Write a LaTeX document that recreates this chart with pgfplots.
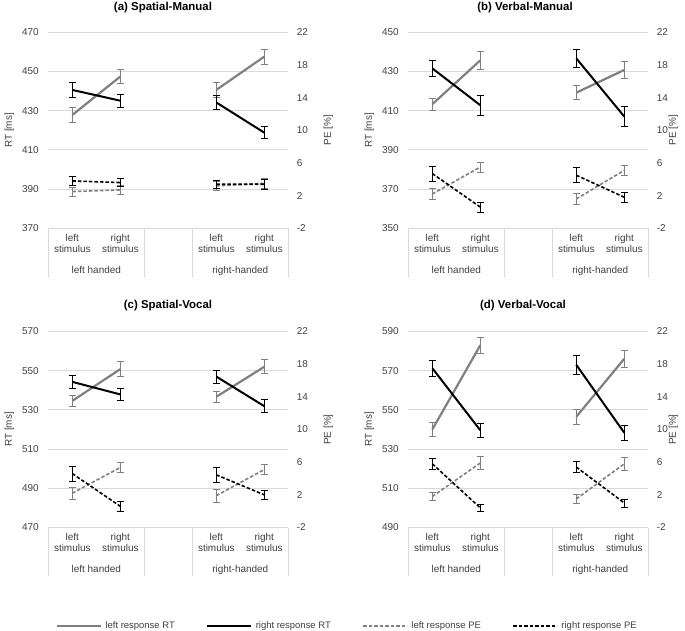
\documentclass[border=0pt]{standalone}
\usepackage{pgfplots}
\pgfplotsset{compat=1.18}
\usepackage{pgfplotstable}
\usepackage{fontspec}
\setmainfont{Liberation Sans}
\definecolor{lgray}{HTML}{808080}
\definecolor{gridc}{HTML}{D9D9D9}
\definecolor{txt}{HTML}{404040}

% x: 0,1 = left handed (left/right stimulus), 3,4 = right-handed; x=2 is the gap
\pgfplotstableread{
x lr lre rr rre lp lpe rp rpe
0 427.8 4.0 440.6 3.7 2.5 0.55 3.8 0.5
1 447.4 3.7 435.1 3.3 2.7 0.6 3.6 0.5
2 nan 0 nan 0 nan 0 nan 0
3 440.6 3.8 434.2 3.5 3.2 0.5 3.4 0.5
4 457.6 3.8 418.8 3.1 3.5 0.6 3.4 0.6
}\tA
\pgfplotstableread{
x lr lre rr rre lp lpe rp rpe
0 413.3 3.2 431.6 4.2 2.2 0.7 4.7 0.9
1 435.7 4.5 412.8 5.0 5.5 0.6 0.6 0.6
2 nan 0 nan 0 nan 0 nan 0
3 419.2 3.5 436.7 4.5 1.6 0.7 4.5 0.9
4 430.8 4.5 407.0 5.0 5.1 0.6 1.8 0.6
}\tB
\pgfplotstableread{
x lr lre rr rre lp lpe rp rpe
0 534.6 2.8 544.3 3.5 2.2 0.7 4.6 0.9
1 550.8 3.8 537.9 3.0 5.35 0.6 0.6 0.6
2 nan 0 nan 0 nan 0 nan 0
3 536.7 2.9 547.0 3.4 1.9 0.8 4.45 0.9
4 552.0 3.6 531.9 3.4 5.1 0.6 2.0 0.6
}\tC
\pgfplotstableread{
x lr lre rr rre lp lpe rp rpe
0 540.0 3.5 571.3 4.0 1.8 0.5 5.8 0.7
1 583.0 4.0 539.6 3.6 5.9 0.75 0.4 0.45
2 nan 0 nan 0 nan 0 nan 0
3 546.5 3.9 573.0 4.7 1.5 0.5 5.4 0.7
4 576.1 4.3 538.3 3.8 5.8 0.8 1.0 0.5
}\tD

\pgfplotsset{
  base/.style={scale only axis, width=240bp, height=196bp, xmin=-0.5, xmax=4.5,
    clip=false, anchor=south west, axis line style={draw=none}, tick style={draw=none},
    unbounded coords=jump,
    ticklabel style={font=\fontsize{10}{11.5}\selectfont, text=txt},
    label style={font=\fontsize{10}{11.5}\selectfont, text=txt},
    /pgf/number format/assume math mode=true},
  rtaxis/.style={base, ymajorgrids, grid style={gridc, line width=0.9bp},
    xtick={0,1,3,4},
    xticklabels={left\\stimulus,right\\stimulus,left\\stimulus,right\\stimulus},
    xticklabel style={align=center, yshift=-2bp},
    yticklabel style={xshift=-6bp}, ylabel={RT [ms]}},
  peaxis/.style={base, ymin=-2, ymax=22, ytick={-2,2,...,22}, axis y line*=right,
    hide x axis, yticklabel style={xshift=5bp}, ylabel={PE [\%]}},
  errb/.style={/pgfplots/error bars/y dir=both, /pgfplots/error bars/y explicit,
    /pgfplots/error bars/error bar style={line width=0.8bp, solid, #1},
    /pgfplots/error bars/error mark options={rotate=90, mark size=3.5bp, line width=0.8bp, solid, #1}},
  lrRT/.style={lgray, line width=2.2bp, no marks, errb=lgray},
  rrRT/.style={black, line width=2.0bp, no marks, errb=black},
  lrPE/.style={lgray, line width=1.6bp, dash pattern=on 3.5bp off 2bp, no marks, errb=lgray},
  rrPE/.style={black, line width=1.6bp, dash pattern=on 3.5bp off 2bp, no marks, errb=black},
}

% #1 table, #2 x, #3 y (bottom), #4 ymin, #5 ymax, #6 second tick, #7 PE label shift
\newcommand{\panel}[7]{%
\begin{axis}[rtaxis, at={(#2,#3)}, ymin=#4, ymax=#5, ytick={#4,#6,...,#5},
  ylabel style={at={([xshift=-39bp]rel axis cs:0,0.5)}, anchor=center, rotate=0}]
  \addplot[lrRT] table[x=x, y=lr, y error=lre] {#1};
  \addplot[rrRT] table[x=x, y=rr, y error=rre] {#1};
  \draw[gridc, line width=0.9bp] (rel axis cs:0,0) -- ([yshift=-48.5bp]rel axis cs:0,0);
  \draw[gridc, line width=0.9bp] (rel axis cs:0.4,0) -- ([yshift=-48.5bp]rel axis cs:0.4,0);
  \draw[gridc, line width=0.9bp] (rel axis cs:0.6,0) -- ([yshift=-48.5bp]rel axis cs:0.6,0);
  \draw[gridc, line width=0.9bp] (rel axis cs:1,0) -- ([yshift=-48.5bp]rel axis cs:1,0);
  \node[anchor=base, font=\fontsize{10}{11.5}\selectfont, text=txt] at ([yshift=-45bp]rel axis cs:0.2,0) {left handed};
  \node[anchor=base, font=\fontsize{10}{11.5}\selectfont, text=txt] at ([yshift=-45bp]rel axis cs:0.8,0) {right-handed};
\end{axis}
\begin{axis}[peaxis, at={(#2,#3)},
  ylabel style={at={([xshift=#7]rel axis cs:1,0.5)}, anchor=center, rotate=0}]
  \addplot[lrPE] table[x=x, y=lp, y error=lpe] {#1};
  \addplot[rrPE] table[x=x, y=rp, y error=rpe] {#1};
\end{axis}}

\begin{document}
\begin{tikzpicture}
\useasboundingbox (0,0) rectangle (685bp,-631bp);
\panel{\tA}{48.3bp}{-228.3bp}{370}{470}{390}{40bp}
\panel{\tB}{408.3bp}{-228.3bp}{350}{450}{370}{25bp}
\panel{\tC}{48.3bp}{-527.5bp}{470}{570}{490}{40bp}
\panel{\tD}{408.3bp}{-527.5bp}{490}{590}{510}{25bp}

\node[font=\bfseries\fontsize{11.5}{13}\selectfont] at (163bp,-8bp) {(a) Spatial-Manual};
\node[font=\bfseries\fontsize{11.5}{13}\selectfont] at (525bp,-8bp) {(b) Verbal-Manual};
\node[font=\bfseries\fontsize{11.5}{13}\selectfont] at (168bp,-306bp) {(c) Spatial-Vocal};
\node[font=\bfseries\fontsize{11.5}{13}\selectfont] at (523bp,-306bp) {(d) Verbal-Vocal};

\begin{axis}[at={(0bp,-631bp)}, anchor=south west, scale only axis, width=685bp, height=40bp,
  xmin=0, xmax=1, ymin=0, ymax=1, hide axis,
  legend style={at={(0.5066,0.1325)}, anchor=center, draw=none, fill=none,
    font=\fontsize{9.5}{11}\selectfont, text=txt, legend columns=4,
    nodes={inner sep=1.5bp},
    /tikz/every odd column/.append style={column sep=2bp},
    /tikz/every even column/.append style={column sep=30bp}},
  legend image code/.code={\draw[#1] (0bp,0bp) -- (44bp,0bp);}]
  \addlegendimage{lgray, line width=2.2bp}
  \addlegendentry{left response RT}
  \addlegendimage{black, line width=2.0bp}
  \addlegendentry{right response RT}
  \addlegendimage{lgray, line width=1.6bp, dash pattern=on 3.5bp off 2bp}
  \addlegendentry{left response PE}
  \addlegendimage{black, line width=1.6bp, dash pattern=on 3.5bp off 2bp}
  \addlegendentry{right response PE}
\end{axis}
\end{tikzpicture}
\end{document}
